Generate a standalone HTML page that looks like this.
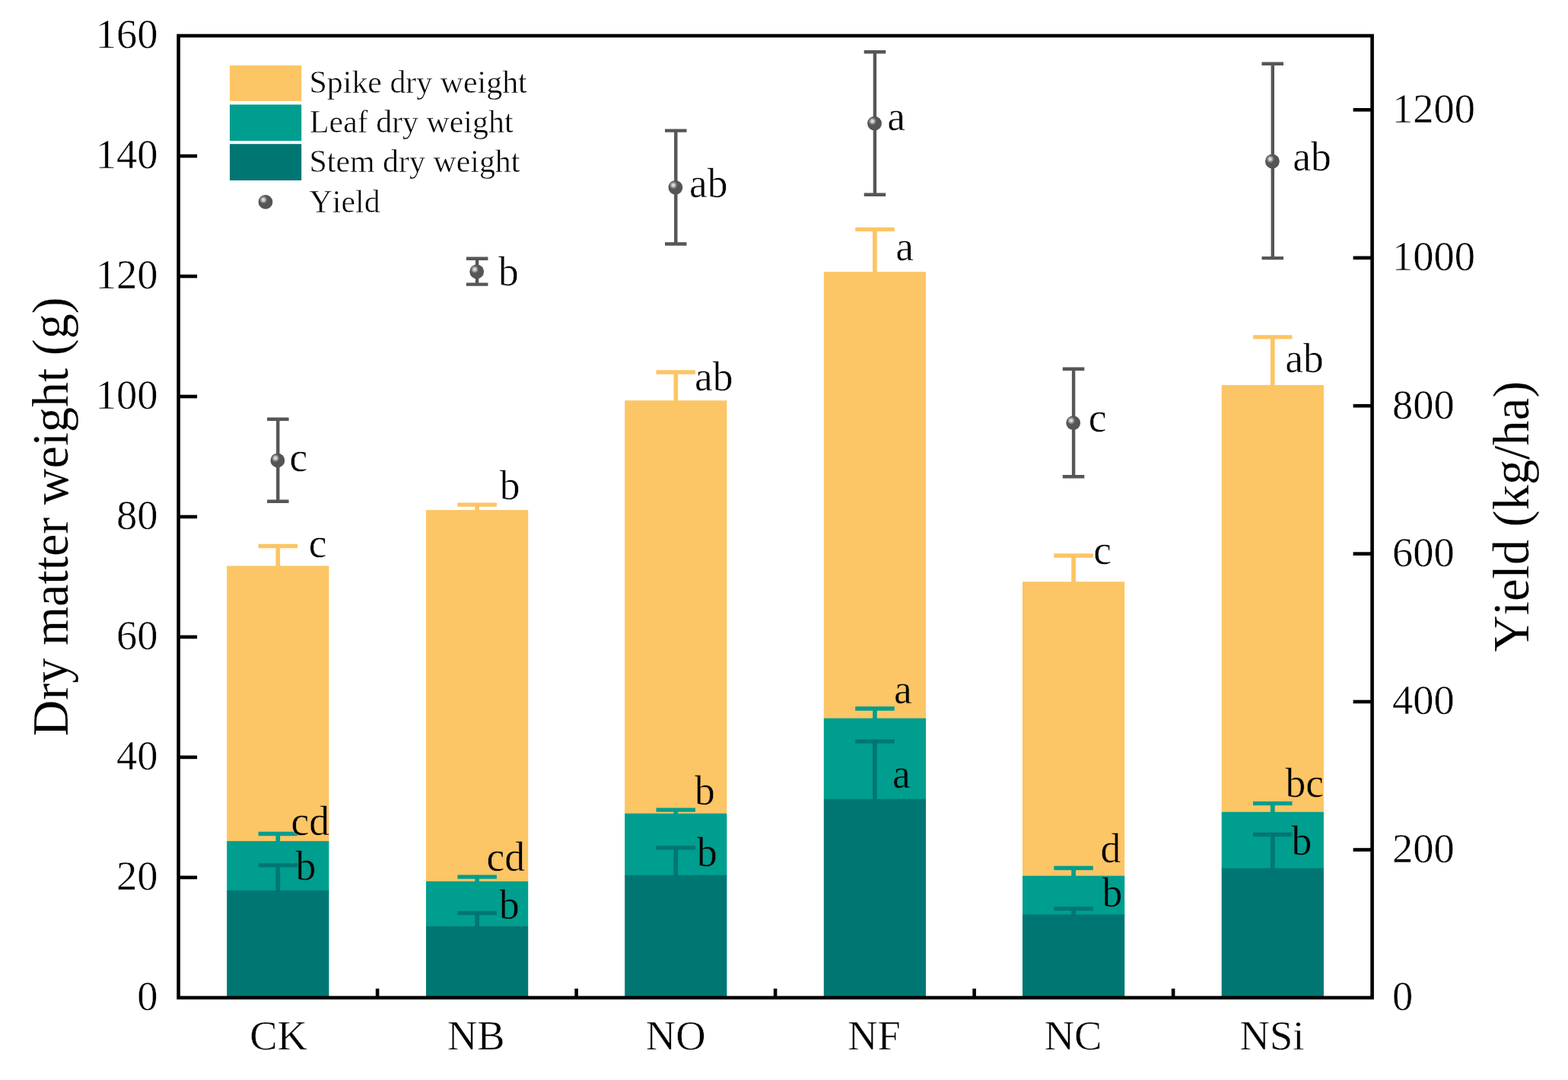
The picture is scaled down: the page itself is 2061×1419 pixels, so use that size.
<!DOCTYPE html>
<html lang="en"><head><meta charset="utf-8"><title>Dry matter weight and yield</title>
<style>
html,body{margin:0;padding:0;background:#fff;}
body{width:2061px;height:1419px;overflow:hidden;}
svg{display:block;}
text{font-family:"Liberation Serif","DejaVu Serif",serif;fill:#000;font-kerning:none;stroke:#fff;stroke-width:0.5px;stroke-linejoin:round;}
.so{stroke:#fcc565;}.st{stroke:#009e8e;}
.tk{font-size:54.5px;}
.lt{font-size:53.5px;}
.lg{font-size:41.9px;stroke-width:0.15px;}
.ti{font-size:66px;stroke-width:0.2px;}
</style></head><body>
<svg width="2061" height="1419" viewBox="0 0 2061 1419" role="img" aria-label="Stacked bar chart of dry matter weight with yield points">
<rect x="0" y="0" width="2061" height="1419" fill="#ffffff"/>
<g id="bars">
<rect x="298.2" y="743.5" width="134.2" height="362.1" fill="#fcc565"/>
<rect x="298.2" y="1105.1" width="134.2" height="65.3" fill="#009e8e"/>
<rect x="298.2" y="1169.9" width="134.2" height="141.0" fill="#007673"/>
<rect x="560.0" y="670.1" width="134.2" height="488.4" fill="#fcc565"/>
<rect x="560.0" y="1158.0" width="134.2" height="59.5" fill="#009e8e"/>
<rect x="560.0" y="1217.0" width="134.2" height="93.9" fill="#007673"/>
<rect x="821.2" y="526.2" width="134.2" height="543.1" fill="#fcc565"/>
<rect x="821.2" y="1068.8" width="134.2" height="81.6" fill="#009e8e"/>
<rect x="821.2" y="1149.9" width="134.2" height="161.0" fill="#007673"/>
<rect x="1082.8" y="357.2" width="134.2" height="587.0" fill="#fcc565"/>
<rect x="1082.8" y="943.7" width="134.2" height="106.7" fill="#009e8e"/>
<rect x="1082.8" y="1049.9" width="134.2" height="261.0" fill="#007673"/>
<rect x="1344.0" y="764.3" width="134.2" height="386.9" fill="#fcc565"/>
<rect x="1344.0" y="1150.7" width="134.2" height="51.3" fill="#009e8e"/>
<rect x="1344.0" y="1201.5" width="134.2" height="109.4" fill="#007673"/>
<rect x="1605.7" y="505.9" width="134.2" height="561.4" fill="#fcc565"/>
<rect x="1605.7" y="1066.8" width="134.2" height="74.4" fill="#009e8e"/>
<rect x="1605.7" y="1140.7" width="134.2" height="170.2" fill="#007673"/>
</g>
<g id="errs" fill="none" stroke-width="5.7">
<path d="M365.3 1170.9V1136.8" stroke="#007673"/><path d="M339.6 1136.8H391.1" stroke="#007673" stroke-width="5.3"/>
<path d="M365.3 1106.1V1095.5" stroke="#009e8e"/><path d="M339.6 1095.5H391.1" stroke="#009e8e" stroke-width="5.3"/>
<path d="M365.3 744.5V717.5" stroke="#fcc565"/><path d="M339.6 717.5H391.1" stroke="#fcc565" stroke-width="5.3"/>
<path d="M627.1 1218.0V1199.6" stroke="#007673"/><path d="M601.4 1199.6H652.9" stroke="#007673" stroke-width="5.3"/>
<path d="M627.1 1159.0V1152.1" stroke="#009e8e"/><path d="M601.4 1152.1H652.9" stroke="#009e8e" stroke-width="5.3"/>
<path d="M627.1 671.1V663.1" stroke="#fcc565"/><path d="M601.4 663.1H652.9" stroke="#fcc565" stroke-width="5.3"/>
<path d="M888.3 1150.9V1113.8" stroke="#007673"/><path d="M862.5 1113.8H914.0" stroke="#007673" stroke-width="5.3"/>
<path d="M888.3 1069.8V1064.2" stroke="#009e8e"/><path d="M862.5 1064.2H914.0" stroke="#009e8e" stroke-width="5.3"/>
<path d="M888.3 527.2V489.0" stroke="#fcc565"/><path d="M862.5 489.0H914.0" stroke="#fcc565" stroke-width="5.3"/>
<path d="M1149.9 1050.9V974.1" stroke="#007673"/><path d="M1124.2 974.1H1175.7" stroke="#007673" stroke-width="5.3"/>
<path d="M1149.9 944.7V931.0" stroke="#009e8e"/><path d="M1124.2 931.0H1175.7" stroke="#009e8e" stroke-width="5.3"/>
<path d="M1149.9 358.2V301.3" stroke="#fcc565"/><path d="M1124.2 301.3H1175.7" stroke="#fcc565" stroke-width="5.3"/>
<path d="M1411.1 1202.5V1193.9" stroke="#007673"/><path d="M1385.3 1193.9H1436.8" stroke="#007673" stroke-width="5.3"/>
<path d="M1411.1 1151.7V1140.5" stroke="#009e8e"/><path d="M1385.3 1140.5H1436.8" stroke="#009e8e" stroke-width="5.3"/>
<path d="M1411.1 765.3V730.0" stroke="#fcc565"/><path d="M1385.3 730.0H1436.8" stroke="#fcc565" stroke-width="5.3"/>
<path d="M1672.8 1141.7V1096.5" stroke="#007673"/><path d="M1647.0 1096.5H1698.5" stroke="#007673" stroke-width="5.3"/>
<path d="M1672.8 1067.8V1055.7" stroke="#009e8e"/><path d="M1647.0 1055.7H1698.5" stroke="#009e8e" stroke-width="5.3"/>
<path d="M1672.8 506.9V442.9" stroke="#fcc565"/><path d="M1647.0 442.9H1698.5" stroke="#fcc565" stroke-width="5.3"/>
</g>
<g id="yield">
<path d="M365.3 550.8V658.8M351.1 550.8H379.6M351.1 658.8H379.6" fill="none" stroke="#565656" stroke-width="4.4"/>
<g><circle cx="364.9" cy="604.9" r="9.4" fill="#555555"/><circle cx="362.1" cy="601.9" r="5.2" fill="#626262"/><circle cx="362.1" cy="601.9" r="4.5" fill="#777777"/><circle cx="362.1" cy="601.9" r="3.8" fill="#8f8f8f"/><circle cx="362.1" cy="601.9" r="3.1" fill="#a9a9a9"/><circle cx="362.1" cy="601.9" r="2.4" fill="#c2c2c2"/><circle cx="362.1" cy="601.9" r="1.7" fill="#d6d6d6"/><circle cx="362.1" cy="601.9" r="0.9" fill="#e6e6e6"/></g>
<path d="M627.1 339.8V373.6M612.9 339.8H641.4M612.9 373.6H641.4" fill="none" stroke="#565656" stroke-width="4.4"/>
<g><circle cx="626.7" cy="356.9" r="9.4" fill="#555555"/><circle cx="623.9" cy="353.9" r="5.2" fill="#626262"/><circle cx="623.9" cy="353.9" r="4.5" fill="#777777"/><circle cx="623.9" cy="353.9" r="3.8" fill="#8f8f8f"/><circle cx="623.9" cy="353.9" r="3.1" fill="#a9a9a9"/><circle cx="623.9" cy="353.9" r="2.4" fill="#c2c2c2"/><circle cx="623.9" cy="353.9" r="1.7" fill="#d6d6d6"/><circle cx="623.9" cy="353.9" r="0.9" fill="#e6e6e6"/></g>
<path d="M888.3 171.6V320.5M874.0 171.6H902.5M874.0 320.5H902.5" fill="none" stroke="#565656" stroke-width="4.4"/>
<g><circle cx="887.9" cy="246.3" r="9.4" fill="#555555"/><circle cx="885.1" cy="243.3" r="5.2" fill="#626262"/><circle cx="885.1" cy="243.3" r="4.5" fill="#777777"/><circle cx="885.1" cy="243.3" r="3.8" fill="#8f8f8f"/><circle cx="885.1" cy="243.3" r="3.1" fill="#a9a9a9"/><circle cx="885.1" cy="243.3" r="2.4" fill="#c2c2c2"/><circle cx="885.1" cy="243.3" r="1.7" fill="#d6d6d6"/><circle cx="885.1" cy="243.3" r="0.9" fill="#e6e6e6"/></g>
<path d="M1149.9 68.2V255.8M1135.7 68.2H1164.2M1135.7 255.8H1164.2" fill="none" stroke="#565656" stroke-width="4.4"/>
<g><circle cx="1149.5" cy="162.2" r="9.4" fill="#555555"/><circle cx="1146.7" cy="159.2" r="5.2" fill="#626262"/><circle cx="1146.7" cy="159.2" r="4.5" fill="#777777"/><circle cx="1146.7" cy="159.2" r="3.8" fill="#8f8f8f"/><circle cx="1146.7" cy="159.2" r="3.1" fill="#a9a9a9"/><circle cx="1146.7" cy="159.2" r="2.4" fill="#c2c2c2"/><circle cx="1146.7" cy="159.2" r="1.7" fill="#d6d6d6"/><circle cx="1146.7" cy="159.2" r="0.9" fill="#e6e6e6"/></g>
<path d="M1411.1 484.7V626.2M1396.8 484.7H1425.3M1396.8 626.2H1425.3" fill="none" stroke="#565656" stroke-width="4.4"/>
<g><circle cx="1410.7" cy="555.6" r="9.4" fill="#555555"/><circle cx="1407.9" cy="552.6" r="5.2" fill="#626262"/><circle cx="1407.9" cy="552.6" r="4.5" fill="#777777"/><circle cx="1407.9" cy="552.6" r="3.8" fill="#8f8f8f"/><circle cx="1407.9" cy="552.6" r="3.1" fill="#a9a9a9"/><circle cx="1407.9" cy="552.6" r="2.4" fill="#c2c2c2"/><circle cx="1407.9" cy="552.6" r="1.7" fill="#d6d6d6"/><circle cx="1407.9" cy="552.6" r="0.9" fill="#e6e6e6"/></g>
<path d="M1672.8 83.8V339.1M1658.5 83.8H1687.0M1658.5 339.1H1687.0" fill="none" stroke="#565656" stroke-width="4.4"/>
<g><circle cx="1672.4" cy="212.0" r="9.4" fill="#555555"/><circle cx="1669.6" cy="209.0" r="5.2" fill="#626262"/><circle cx="1669.6" cy="209.0" r="4.5" fill="#777777"/><circle cx="1669.6" cy="209.0" r="3.8" fill="#8f8f8f"/><circle cx="1669.6" cy="209.0" r="3.1" fill="#a9a9a9"/><circle cx="1669.6" cy="209.0" r="2.4" fill="#c2c2c2"/><circle cx="1669.6" cy="209.0" r="1.7" fill="#d6d6d6"/><circle cx="1669.6" cy="209.0" r="0.9" fill="#e6e6e6"/></g>
</g>
<g id="axes" fill="none" stroke="#000" stroke-width="4.6">
<rect x="234.6" y="47.0" width="1569.0" height="1263.9"/>
<path d="M234.6 1152.9H259.1"/>
<path d="M234.6 994.9H259.1"/>
<path d="M234.6 836.9H259.1"/>
<path d="M234.6 679.0H259.1"/>
<path d="M234.6 521.0H259.1"/>
<path d="M234.6 363.0H259.1"/>
<path d="M234.6 205.0H259.1"/>
<path d="M1803.6 1116.5H1778.6"/>
<path d="M1803.6 922.0H1778.6"/>
<path d="M1803.6 727.6H1778.6"/>
<path d="M1803.6 533.2H1778.6"/>
<path d="M1803.6 338.8H1778.6"/>
<path d="M1803.6 144.3H1778.6"/>
<path d="M496.1 1310.9V1298.9"/>
<path d="M757.6 1310.9V1298.9"/>
<path d="M1019.1 1310.9V1298.9"/>
<path d="M1280.6 1310.9V1298.9"/>
<path d="M1542.1 1310.9V1298.9"/>
</g>
<g id="ylabels" class="tk" text-anchor="end">
<text transform="translate(207.6 1327.3) scale(1 1.015)">0</text>
<text transform="translate(207.6 1169.3) scale(1 1.015)">20</text>
<text transform="translate(207.6 1011.3) scale(1 1.015)">40</text>
<text transform="translate(207.6 853.3) scale(1 1.015)">60</text>
<text transform="translate(207.6 695.4) scale(1 1.015)">80</text>
<text transform="translate(207.6 537.4) scale(1 1.015)">100</text>
<text transform="translate(207.6 379.4) scale(1 1.015)">120</text>
<text transform="translate(207.6 221.4) scale(1 1.015)">140</text>
<text transform="translate(207.6 63.4) scale(1 1.015)">160</text>
</g>
<g id="y2labels" class="tk" text-anchor="start">
<text transform="translate(1830.0 1327.3) scale(1 1.015)">0</text>
<text transform="translate(1830.0 1132.9) scale(1 1.015)">200</text>
<text transform="translate(1830.0 938.4) scale(1 1.015)">400</text>
<text transform="translate(1830.0 744.0) scale(1 1.015)">600</text>
<text transform="translate(1830.0 549.6) scale(1 1.015)">800</text>
<text transform="translate(1830.0 355.2) scale(1 1.015)">1000</text>
<text transform="translate(1830.0 160.7) scale(1 1.015)">1200</text>
</g>
<g id="xlabels" class="tk" text-anchor="middle">
<text transform="translate(366.0 1379.0)">CK</text>
<text transform="translate(625.8 1379.0)">NB</text>
<text transform="translate(888.2 1379.0)">NO</text>
<text transform="translate(1149.0 1379.0)">NF</text>
<text transform="translate(1410.6 1379.0)">NC</text>
<text transform="translate(1672.0 1379.0)">NSi</text>
</g>
<text class="ti" text-anchor="middle" transform="translate(89.0 678.8) rotate(-90) scale(1 1.030)">Dry matter weight (g)</text>
<text class="ti" text-anchor="middle" style="font-size:66.4px" transform="translate(2008.8 678.6) rotate(-90) scale(1 1.030)">Yield (kg/ha)</text>
<g id="legend">
<rect x="302.0" y="86.0" width="94.2" height="46.8" fill="#fcc565"/>
<rect x="302.0" y="137.4" width="94.2" height="47.6" fill="#009e8e"/>
<rect x="302.0" y="189.2" width="94.2" height="47.8" fill="#007673"/>
<g><circle cx="349.0" cy="265.4" r="9.4" fill="#555555"/><circle cx="346.2" cy="262.4" r="5.2" fill="#626262"/><circle cx="346.2" cy="262.4" r="4.5" fill="#777777"/><circle cx="346.2" cy="262.4" r="3.8" fill="#8f8f8f"/><circle cx="346.2" cy="262.4" r="3.1" fill="#a9a9a9"/><circle cx="346.2" cy="262.4" r="2.4" fill="#c2c2c2"/><circle cx="346.2" cy="262.4" r="1.7" fill="#d6d6d6"/><circle cx="346.2" cy="262.4" r="0.9" fill="#e6e6e6"/></g>
<g class="lg">
<text x="406.5" y="122.1">Spike dry weight</text>
<text x="407.0" y="174.0">Leaf dry weight</text>
<text x="406.5" y="226.4">Stem dry weight</text>
<text x="406.6" y="279.2">Yield</text>
</g></g>
<g id="letters" class="lt">
<text transform="translate(380.5 619.4) scale(1 1.012)">c</text>
<text transform="translate(405.7 732.2) scale(1 1.012)">c</text>
<text class="so" transform="translate(382.4 1096.7) scale(1 1.012)">cd</text>
<text class="st" transform="translate(388.6 1155.7) scale(1 1.012)">b</text>
<text transform="translate(655.0 374.5) scale(1 1.012)">b</text>
<text transform="translate(656.7 655.9) scale(1 1.012)">b</text>
<text class="so" transform="translate(639.5 1144.0) scale(1 1.012)">cd</text>
<text class="st" transform="translate(656.0 1206.9) scale(1 1.012)">b</text>
<text transform="translate(906.0 258.7) scale(1 1.012)">ab</text>
<text transform="translate(912.9 512.5) scale(1 1.012)">ab</text>
<text class="so" transform="translate(913.0 1057.0) scale(1 1.012)">b</text>
<text class="st" transform="translate(916.0 1137.5) scale(1 1.012)">b</text>
<text transform="translate(1166.3 171.3) scale(1 1.012)">a</text>
<text transform="translate(1177.3 342.2) scale(1 1.012)">a</text>
<text class="so" transform="translate(1175.1 924.1) scale(1 1.012)">a</text>
<text class="st" transform="translate(1172.9 1035.2) scale(1 1.012)">a</text>
<text transform="translate(1430.7 567.0) scale(1 1.012)">c</text>
<text transform="translate(1437.2 741.2) scale(1 1.012)">c</text>
<text class="so" transform="translate(1446.6 1132.5) scale(1 1.012)">d</text>
<text class="st" transform="translate(1448.4 1190.9) scale(1 1.012)">b</text>
<text transform="translate(1699.2 224.4) scale(1 1.012)">ab</text>
<text transform="translate(1689.3 488.7) scale(1 1.012)">ab</text>
<text class="so" transform="translate(1689.4 1047.3) scale(1 1.012)">bc</text>
<text class="st" transform="translate(1697.4 1122.9) scale(1 1.012)">b</text>
</g>
</svg>
</body></html>
